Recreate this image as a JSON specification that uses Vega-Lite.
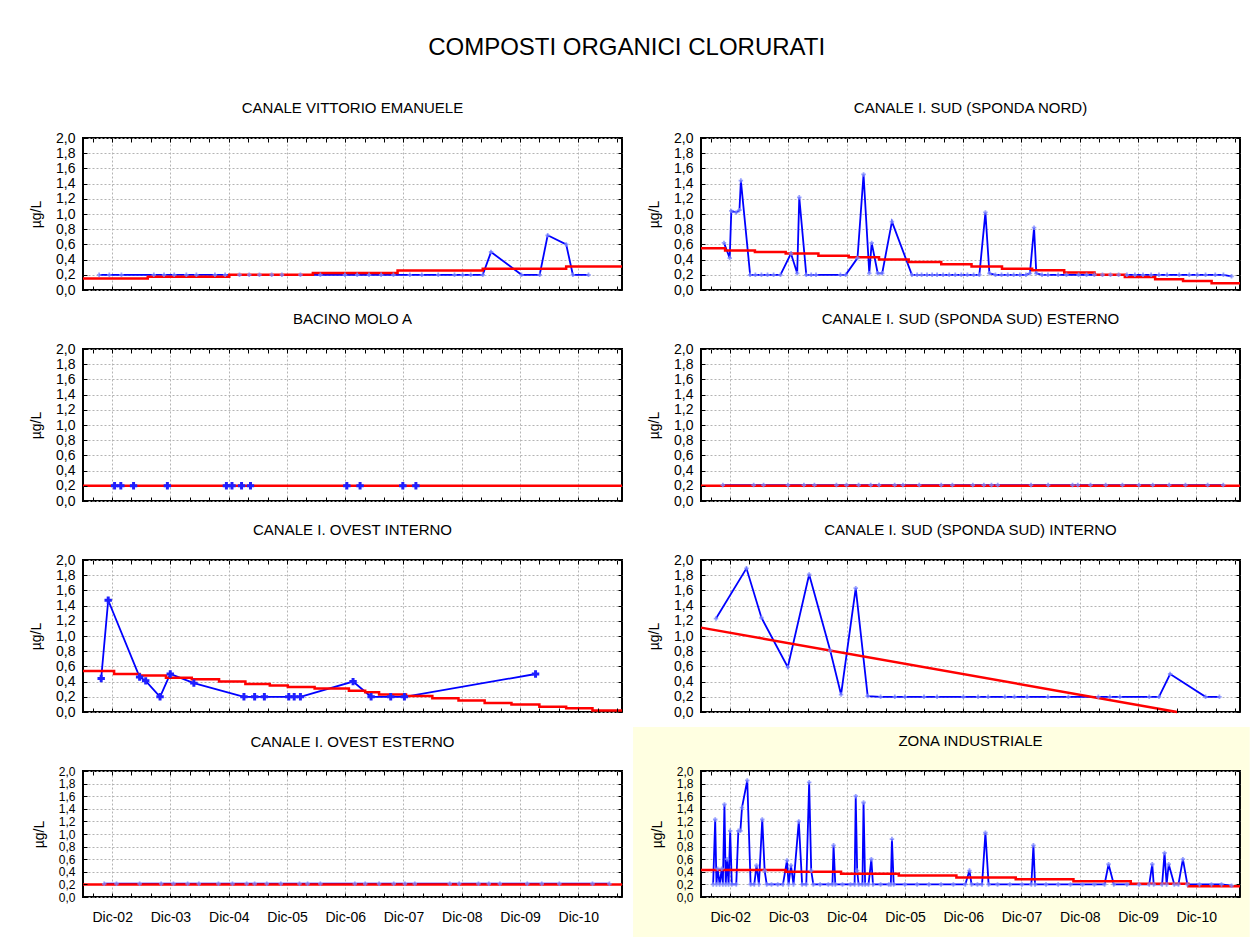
{
 "$schema": "https://vega.github.io/schema/vega-lite/v6.json",
 "padding": {"left": 28, "top": 36, "right": 0, "bottom": 0},
 "background": "#ffffff",
 "title": {"text": "COMPOSTI ORGANICI CLORURATI", "fontSize": 24, "anchor": "middle", "offset": 40, "dx": -13},
 "columns": 2,
 "spacing": {"row": 59, "column": 79},
 "bounds": "flush",
 "concat": [
  {
   "width": 539, "height": 152,
   "title": {"text": "CANALE VITTORIO EMANUELE", "fontSize": 15, "offset": 15, "frame": "group", "anchor": "middle"},
   "layer": [
    {"data": {"name": "vem_m"}, "mark": {"type": "line", "color": "#0000ff", "strokeWidth": 1.8},
     "encoding": {
      "x": {"field": "date", "type": "temporal", "title": null, "scale": {"domain": [{"year": 2002, "month": 6, "date": 1}, {"year": 2011, "month": 9, "date": 1}]},
            "axis": {"orient": "bottom", "labels": false, "grid": false, "zindex": 1, "values": [{"year":2002,"month":8,"date":1},{"year":2002,"month":12,"date":1},{"year":2003,"month":4,"date":1},{"year":2003,"month":8,"date":1},{"year":2003,"month":12,"date":1},{"year":2004,"month":4,"date":1},{"year":2004,"month":8,"date":1},{"year":2004,"month":12,"date":1},{"year":2005,"month":4,"date":1},{"year":2005,"month":8,"date":1},{"year":2005,"month":12,"date":1},{"year":2006,"month":4,"date":1},{"year":2006,"month":8,"date":1},{"year":2006,"month":12,"date":1},{"year":2007,"month":4,"date":1},{"year":2007,"month":8,"date":1},{"year":2007,"month":12,"date":1},{"year":2008,"month":4,"date":1},{"year":2008,"month":8,"date":1},{"year":2008,"month":12,"date":1},{"year":2009,"month":4,"date":1},{"year":2009,"month":8,"date":1},{"year":2009,"month":12,"date":1},{"year":2010,"month":4,"date":1},{"year":2010,"month":8,"date":1},{"year":2010,"month":12,"date":1},{"year":2011,"month":4,"date":1},{"year":2011,"month":8,"date":1}]}},
      "y": {"field": "value", "type": "quantitative", "title": "µg/L", "scale": {"domain": [0, 2], "nice": false},
            "axis": {"orient": "left", "grid": false, "zindex": 1, "values": [0,0.2,0.4,0.6,0.8,1,1.2,1.4,1.6,1.8,2], "labelExpr": "replace(format(datum.value, '.1f'), '.', ',')"}}
     }},
    {"data": {"name": "vem_t"}, "mark": {"type": "line", "color": "#ff0000", "strokeWidth": 2.5, "interpolate": "step-after"},
     "encoding": {
      "x": {"field": "date", "type": "temporal", "title": null, "scale": {"domain": [{"year": 2002, "month": 6, "date": 1}, {"year": 2011, "month": 9, "date": 1}]},
            "axis": {"orient": "top", "labels": false, "grid": true, "gridOpacity": {"condition": {"test": "month(datum.value) == 11", "value": 1}, "value": 0}, "values": [{"year":2002,"month":8,"date":1},{"year":2002,"month":12,"date":1},{"year":2003,"month":4,"date":1},{"year":2003,"month":8,"date":1},{"year":2003,"month":12,"date":1},{"year":2004,"month":4,"date":1},{"year":2004,"month":8,"date":1},{"year":2004,"month":12,"date":1},{"year":2005,"month":4,"date":1},{"year":2005,"month":8,"date":1},{"year":2005,"month":12,"date":1},{"year":2006,"month":4,"date":1},{"year":2006,"month":8,"date":1},{"year":2006,"month":12,"date":1},{"year":2007,"month":4,"date":1},{"year":2007,"month":8,"date":1},{"year":2007,"month":12,"date":1},{"year":2008,"month":4,"date":1},{"year":2008,"month":8,"date":1},{"year":2008,"month":12,"date":1},{"year":2009,"month":4,"date":1},{"year":2009,"month":8,"date":1},{"year":2009,"month":12,"date":1},{"year":2010,"month":4,"date":1},{"year":2010,"month":8,"date":1},{"year":2010,"month":12,"date":1},{"year":2011,"month":4,"date":1},{"year":2011,"month":8,"date":1}]}},
      "y": {"field": "value", "type": "quantitative", "title": null, "scale": {"domain": [0, 2], "nice": false},
            "axis": {"orient": "right", "labels": false, "grid": true, "values": [0,0.2,0.4,0.6,0.8,1,1.2,1.4,1.6,1.8,2]}}
     }},
    {"data": {"name": "vem_m"}, "mark": {"type": "point", "shape": "cross", "filled": true, "size": 20, "color": "#7d88ff", "opacity": 0.8},
     "encoding": {
      "x": {"field": "date", "type": "temporal", "axis": null, "scale": {"domain": [{"year": 2002, "month": 6, "date": 1}, {"year": 2011, "month": 9, "date": 1}]}},
      "y": {"field": "value", "type": "quantitative", "axis": null, "scale": {"domain": [0, 2], "nice": false}}
     }}
   ],
   "resolve": {"axis": {"x": "independent", "y": "independent"}}
  },
  {
   "width": 539, "height": 152,
   "title": {"text": "CANALE I. SUD (SPONDA NORD)", "fontSize": 15, "offset": 15, "frame": "group", "anchor": "middle"},
   "layer": [
    {"data": {"name": "sn_m"}, "mark": {"type": "line", "color": "#0000ff", "strokeWidth": 1.8},
     "encoding": {
      "x": {"field": "date", "type": "temporal", "title": null, "scale": {"domain": [{"year": 2002, "month": 6, "date": 1}, {"year": 2011, "month": 9, "date": 1}]},
            "axis": {"orient": "bottom", "labels": false, "grid": false, "zindex": 1, "values": [{"year":2002,"month":8,"date":1},{"year":2002,"month":12,"date":1},{"year":2003,"month":4,"date":1},{"year":2003,"month":8,"date":1},{"year":2003,"month":12,"date":1},{"year":2004,"month":4,"date":1},{"year":2004,"month":8,"date":1},{"year":2004,"month":12,"date":1},{"year":2005,"month":4,"date":1},{"year":2005,"month":8,"date":1},{"year":2005,"month":12,"date":1},{"year":2006,"month":4,"date":1},{"year":2006,"month":8,"date":1},{"year":2006,"month":12,"date":1},{"year":2007,"month":4,"date":1},{"year":2007,"month":8,"date":1},{"year":2007,"month":12,"date":1},{"year":2008,"month":4,"date":1},{"year":2008,"month":8,"date":1},{"year":2008,"month":12,"date":1},{"year":2009,"month":4,"date":1},{"year":2009,"month":8,"date":1},{"year":2009,"month":12,"date":1},{"year":2010,"month":4,"date":1},{"year":2010,"month":8,"date":1},{"year":2010,"month":12,"date":1},{"year":2011,"month":4,"date":1},{"year":2011,"month":8,"date":1}]}},
      "y": {"field": "value", "type": "quantitative", "title": "µg/L", "scale": {"domain": [0, 2], "nice": false},
            "axis": {"orient": "left", "grid": false, "zindex": 1, "values": [0,0.2,0.4,0.6,0.8,1,1.2,1.4,1.6,1.8,2], "labelExpr": "replace(format(datum.value, '.1f'), '.', ',')"}}
     }},
    {"data": {"name": "sn_t"}, "mark": {"type": "line", "color": "#ff0000", "strokeWidth": 2.5, "interpolate": "step-after"},
     "encoding": {
      "x": {"field": "date", "type": "temporal", "title": null, "scale": {"domain": [{"year": 2002, "month": 6, "date": 1}, {"year": 2011, "month": 9, "date": 1}]},
            "axis": {"orient": "top", "labels": false, "grid": true, "gridOpacity": {"condition": {"test": "month(datum.value) == 11", "value": 1}, "value": 0}, "values": [{"year":2002,"month":8,"date":1},{"year":2002,"month":12,"date":1},{"year":2003,"month":4,"date":1},{"year":2003,"month":8,"date":1},{"year":2003,"month":12,"date":1},{"year":2004,"month":4,"date":1},{"year":2004,"month":8,"date":1},{"year":2004,"month":12,"date":1},{"year":2005,"month":4,"date":1},{"year":2005,"month":8,"date":1},{"year":2005,"month":12,"date":1},{"year":2006,"month":4,"date":1},{"year":2006,"month":8,"date":1},{"year":2006,"month":12,"date":1},{"year":2007,"month":4,"date":1},{"year":2007,"month":8,"date":1},{"year":2007,"month":12,"date":1},{"year":2008,"month":4,"date":1},{"year":2008,"month":8,"date":1},{"year":2008,"month":12,"date":1},{"year":2009,"month":4,"date":1},{"year":2009,"month":8,"date":1},{"year":2009,"month":12,"date":1},{"year":2010,"month":4,"date":1},{"year":2010,"month":8,"date":1},{"year":2010,"month":12,"date":1},{"year":2011,"month":4,"date":1},{"year":2011,"month":8,"date":1}]}},
      "y": {"field": "value", "type": "quantitative", "title": null, "scale": {"domain": [0, 2], "nice": false},
            "axis": {"orient": "right", "labels": false, "grid": true, "values": [0,0.2,0.4,0.6,0.8,1,1.2,1.4,1.6,1.8,2]}}
     }},
    {"data": {"name": "sn_m"}, "mark": {"type": "point", "shape": "cross", "filled": true, "size": 20, "color": "#7d88ff", "opacity": 0.8},
     "encoding": {
      "x": {"field": "date", "type": "temporal", "axis": null, "scale": {"domain": [{"year": 2002, "month": 6, "date": 1}, {"year": 2011, "month": 9, "date": 1}]}},
      "y": {"field": "value", "type": "quantitative", "axis": null, "scale": {"domain": [0, 2], "nice": false}}
     }}
   ],
   "resolve": {"axis": {"x": "independent", "y": "independent"}}
  },
  {
   "width": 539, "height": 152,
   "title": {"text": "BACINO MOLO A", "fontSize": 15, "offset": 15, "frame": "group", "anchor": "middle"},
   "layer": [
    {"data": {"name": "bma_m"}, "mark": {"type": "line", "color": "#0000ff", "strokeWidth": 1.8},
     "encoding": {
      "x": {"field": "date", "type": "temporal", "title": null, "scale": {"domain": [{"year": 2002, "month": 6, "date": 1}, {"year": 2011, "month": 9, "date": 1}]},
            "axis": {"orient": "bottom", "labels": false, "grid": false, "zindex": 1, "values": [{"year":2002,"month":8,"date":1},{"year":2002,"month":12,"date":1},{"year":2003,"month":4,"date":1},{"year":2003,"month":8,"date":1},{"year":2003,"month":12,"date":1},{"year":2004,"month":4,"date":1},{"year":2004,"month":8,"date":1},{"year":2004,"month":12,"date":1},{"year":2005,"month":4,"date":1},{"year":2005,"month":8,"date":1},{"year":2005,"month":12,"date":1},{"year":2006,"month":4,"date":1},{"year":2006,"month":8,"date":1},{"year":2006,"month":12,"date":1},{"year":2007,"month":4,"date":1},{"year":2007,"month":8,"date":1},{"year":2007,"month":12,"date":1},{"year":2008,"month":4,"date":1},{"year":2008,"month":8,"date":1},{"year":2008,"month":12,"date":1},{"year":2009,"month":4,"date":1},{"year":2009,"month":8,"date":1},{"year":2009,"month":12,"date":1},{"year":2010,"month":4,"date":1},{"year":2010,"month":8,"date":1},{"year":2010,"month":12,"date":1},{"year":2011,"month":4,"date":1},{"year":2011,"month":8,"date":1}]}},
      "y": {"field": "value", "type": "quantitative", "title": "µg/L", "scale": {"domain": [0, 2], "nice": false},
            "axis": {"orient": "left", "grid": false, "zindex": 1, "values": [0,0.2,0.4,0.6,0.8,1,1.2,1.4,1.6,1.8,2], "labelExpr": "replace(format(datum.value, '.1f'), '.', ',')"}}
     }},
    {"data": {"name": "bma_t"}, "mark": {"type": "line", "color": "#ff0000", "strokeWidth": 2.5, "interpolate": "step-after"},
     "encoding": {
      "x": {"field": "date", "type": "temporal", "title": null, "scale": {"domain": [{"year": 2002, "month": 6, "date": 1}, {"year": 2011, "month": 9, "date": 1}]},
            "axis": {"orient": "top", "labels": false, "grid": true, "gridOpacity": {"condition": {"test": "month(datum.value) == 11", "value": 1}, "value": 0}, "values": [{"year":2002,"month":8,"date":1},{"year":2002,"month":12,"date":1},{"year":2003,"month":4,"date":1},{"year":2003,"month":8,"date":1},{"year":2003,"month":12,"date":1},{"year":2004,"month":4,"date":1},{"year":2004,"month":8,"date":1},{"year":2004,"month":12,"date":1},{"year":2005,"month":4,"date":1},{"year":2005,"month":8,"date":1},{"year":2005,"month":12,"date":1},{"year":2006,"month":4,"date":1},{"year":2006,"month":8,"date":1},{"year":2006,"month":12,"date":1},{"year":2007,"month":4,"date":1},{"year":2007,"month":8,"date":1},{"year":2007,"month":12,"date":1},{"year":2008,"month":4,"date":1},{"year":2008,"month":8,"date":1},{"year":2008,"month":12,"date":1},{"year":2009,"month":4,"date":1},{"year":2009,"month":8,"date":1},{"year":2009,"month":12,"date":1},{"year":2010,"month":4,"date":1},{"year":2010,"month":8,"date":1},{"year":2010,"month":12,"date":1},{"year":2011,"month":4,"date":1},{"year":2011,"month":8,"date":1}]}},
      "y": {"field": "value", "type": "quantitative", "title": null, "scale": {"domain": [0, 2], "nice": false},
            "axis": {"orient": "right", "labels": false, "grid": true, "values": [0,0.2,0.4,0.6,0.8,1,1.2,1.4,1.6,1.8,2]}}
     }},
    {"data": {"name": "bma_m"}, "mark": {"type": "point", "shape": "cross", "filled": true, "size": 55, "color": "#1f1fff", "opacity": 1},
     "encoding": {
      "x": {"field": "date", "type": "temporal", "axis": null, "scale": {"domain": [{"year": 2002, "month": 6, "date": 1}, {"year": 2011, "month": 9, "date": 1}]}},
      "y": {"field": "value", "type": "quantitative", "axis": null, "scale": {"domain": [0, 2], "nice": false}}
     }}
   ],
   "resolve": {"axis": {"x": "independent", "y": "independent"}}
  },
  {
   "width": 539, "height": 152,
   "title": {"text": "CANALE I. SUD (SPONDA SUD) ESTERNO", "fontSize": 15, "offset": 15, "frame": "group", "anchor": "middle"},
   "layer": [
    {"data": {"name": "sse_m"}, "mark": {"type": "line", "color": "#0000ff", "strokeWidth": 1.8},
     "encoding": {
      "x": {"field": "date", "type": "temporal", "title": null, "scale": {"domain": [{"year": 2002, "month": 6, "date": 1}, {"year": 2011, "month": 9, "date": 1}]},
            "axis": {"orient": "bottom", "labels": false, "grid": false, "zindex": 1, "values": [{"year":2002,"month":8,"date":1},{"year":2002,"month":12,"date":1},{"year":2003,"month":4,"date":1},{"year":2003,"month":8,"date":1},{"year":2003,"month":12,"date":1},{"year":2004,"month":4,"date":1},{"year":2004,"month":8,"date":1},{"year":2004,"month":12,"date":1},{"year":2005,"month":4,"date":1},{"year":2005,"month":8,"date":1},{"year":2005,"month":12,"date":1},{"year":2006,"month":4,"date":1},{"year":2006,"month":8,"date":1},{"year":2006,"month":12,"date":1},{"year":2007,"month":4,"date":1},{"year":2007,"month":8,"date":1},{"year":2007,"month":12,"date":1},{"year":2008,"month":4,"date":1},{"year":2008,"month":8,"date":1},{"year":2008,"month":12,"date":1},{"year":2009,"month":4,"date":1},{"year":2009,"month":8,"date":1},{"year":2009,"month":12,"date":1},{"year":2010,"month":4,"date":1},{"year":2010,"month":8,"date":1},{"year":2010,"month":12,"date":1},{"year":2011,"month":4,"date":1},{"year":2011,"month":8,"date":1}]}},
      "y": {"field": "value", "type": "quantitative", "title": "µg/L", "scale": {"domain": [0, 2], "nice": false},
            "axis": {"orient": "left", "grid": false, "zindex": 1, "values": [0,0.2,0.4,0.6,0.8,1,1.2,1.4,1.6,1.8,2], "labelExpr": "replace(format(datum.value, '.1f'), '.', ',')"}}
     }},
    {"data": {"name": "sse_t"}, "mark": {"type": "line", "color": "#ff0000", "strokeWidth": 2.5, "interpolate": "step-after"},
     "encoding": {
      "x": {"field": "date", "type": "temporal", "title": null, "scale": {"domain": [{"year": 2002, "month": 6, "date": 1}, {"year": 2011, "month": 9, "date": 1}]},
            "axis": {"orient": "top", "labels": false, "grid": true, "gridOpacity": {"condition": {"test": "month(datum.value) == 11", "value": 1}, "value": 0}, "values": [{"year":2002,"month":8,"date":1},{"year":2002,"month":12,"date":1},{"year":2003,"month":4,"date":1},{"year":2003,"month":8,"date":1},{"year":2003,"month":12,"date":1},{"year":2004,"month":4,"date":1},{"year":2004,"month":8,"date":1},{"year":2004,"month":12,"date":1},{"year":2005,"month":4,"date":1},{"year":2005,"month":8,"date":1},{"year":2005,"month":12,"date":1},{"year":2006,"month":4,"date":1},{"year":2006,"month":8,"date":1},{"year":2006,"month":12,"date":1},{"year":2007,"month":4,"date":1},{"year":2007,"month":8,"date":1},{"year":2007,"month":12,"date":1},{"year":2008,"month":4,"date":1},{"year":2008,"month":8,"date":1},{"year":2008,"month":12,"date":1},{"year":2009,"month":4,"date":1},{"year":2009,"month":8,"date":1},{"year":2009,"month":12,"date":1},{"year":2010,"month":4,"date":1},{"year":2010,"month":8,"date":1},{"year":2010,"month":12,"date":1},{"year":2011,"month":4,"date":1},{"year":2011,"month":8,"date":1}]}},
      "y": {"field": "value", "type": "quantitative", "title": null, "scale": {"domain": [0, 2], "nice": false},
            "axis": {"orient": "right", "labels": false, "grid": true, "values": [0,0.2,0.4,0.6,0.8,1,1.2,1.4,1.6,1.8,2]}}
     }},
    {"data": {"name": "sse_m"}, "mark": {"type": "point", "shape": "cross", "filled": true, "size": 20, "color": "#7d88ff", "opacity": 0.8},
     "encoding": {
      "x": {"field": "date", "type": "temporal", "axis": null, "scale": {"domain": [{"year": 2002, "month": 6, "date": 1}, {"year": 2011, "month": 9, "date": 1}]}},
      "y": {"field": "value", "type": "quantitative", "axis": null, "scale": {"domain": [0, 2], "nice": false}}
     }}
   ],
   "resolve": {"axis": {"x": "independent", "y": "independent"}}
  },
  {
   "width": 539, "height": 152,
   "title": {"text": "CANALE I. OVEST INTERNO", "fontSize": 15, "offset": 15, "frame": "group", "anchor": "middle"},
   "layer": [
    {"data": {"name": "ovi_m"}, "mark": {"type": "line", "color": "#0000ff", "strokeWidth": 1.8},
     "encoding": {
      "x": {"field": "date", "type": "temporal", "title": null, "scale": {"domain": [{"year": 2002, "month": 6, "date": 1}, {"year": 2011, "month": 9, "date": 1}]},
            "axis": {"orient": "bottom", "labels": false, "grid": false, "zindex": 1, "values": [{"year":2002,"month":8,"date":1},{"year":2002,"month":12,"date":1},{"year":2003,"month":4,"date":1},{"year":2003,"month":8,"date":1},{"year":2003,"month":12,"date":1},{"year":2004,"month":4,"date":1},{"year":2004,"month":8,"date":1},{"year":2004,"month":12,"date":1},{"year":2005,"month":4,"date":1},{"year":2005,"month":8,"date":1},{"year":2005,"month":12,"date":1},{"year":2006,"month":4,"date":1},{"year":2006,"month":8,"date":1},{"year":2006,"month":12,"date":1},{"year":2007,"month":4,"date":1},{"year":2007,"month":8,"date":1},{"year":2007,"month":12,"date":1},{"year":2008,"month":4,"date":1},{"year":2008,"month":8,"date":1},{"year":2008,"month":12,"date":1},{"year":2009,"month":4,"date":1},{"year":2009,"month":8,"date":1},{"year":2009,"month":12,"date":1},{"year":2010,"month":4,"date":1},{"year":2010,"month":8,"date":1},{"year":2010,"month":12,"date":1},{"year":2011,"month":4,"date":1},{"year":2011,"month":8,"date":1}]}},
      "y": {"field": "value", "type": "quantitative", "title": "µg/L", "scale": {"domain": [0, 2], "nice": false},
            "axis": {"orient": "left", "grid": false, "zindex": 1, "values": [0,0.2,0.4,0.6,0.8,1,1.2,1.4,1.6,1.8,2], "labelExpr": "replace(format(datum.value, '.1f'), '.', ',')"}}
     }},
    {"data": {"name": "ovi_t"}, "mark": {"type": "line", "color": "#ff0000", "strokeWidth": 2.5, "interpolate": "step-after"},
     "encoding": {
      "x": {"field": "date", "type": "temporal", "title": null, "scale": {"domain": [{"year": 2002, "month": 6, "date": 1}, {"year": 2011, "month": 9, "date": 1}]},
            "axis": {"orient": "top", "labels": false, "grid": true, "gridOpacity": {"condition": {"test": "month(datum.value) == 11", "value": 1}, "value": 0}, "values": [{"year":2002,"month":8,"date":1},{"year":2002,"month":12,"date":1},{"year":2003,"month":4,"date":1},{"year":2003,"month":8,"date":1},{"year":2003,"month":12,"date":1},{"year":2004,"month":4,"date":1},{"year":2004,"month":8,"date":1},{"year":2004,"month":12,"date":1},{"year":2005,"month":4,"date":1},{"year":2005,"month":8,"date":1},{"year":2005,"month":12,"date":1},{"year":2006,"month":4,"date":1},{"year":2006,"month":8,"date":1},{"year":2006,"month":12,"date":1},{"year":2007,"month":4,"date":1},{"year":2007,"month":8,"date":1},{"year":2007,"month":12,"date":1},{"year":2008,"month":4,"date":1},{"year":2008,"month":8,"date":1},{"year":2008,"month":12,"date":1},{"year":2009,"month":4,"date":1},{"year":2009,"month":8,"date":1},{"year":2009,"month":12,"date":1},{"year":2010,"month":4,"date":1},{"year":2010,"month":8,"date":1},{"year":2010,"month":12,"date":1},{"year":2011,"month":4,"date":1},{"year":2011,"month":8,"date":1}]}},
      "y": {"field": "value", "type": "quantitative", "title": null, "scale": {"domain": [0, 2], "nice": false},
            "axis": {"orient": "right", "labels": false, "grid": true, "values": [0,0.2,0.4,0.6,0.8,1,1.2,1.4,1.6,1.8,2]}}
     }},
    {"data": {"name": "ovi_m"}, "mark": {"type": "point", "shape": "cross", "filled": true, "size": 55, "color": "#1f1fff", "opacity": 1},
     "encoding": {
      "x": {"field": "date", "type": "temporal", "axis": null, "scale": {"domain": [{"year": 2002, "month": 6, "date": 1}, {"year": 2011, "month": 9, "date": 1}]}},
      "y": {"field": "value", "type": "quantitative", "axis": null, "scale": {"domain": [0, 2], "nice": false}}
     }}
   ],
   "resolve": {"axis": {"x": "independent", "y": "independent"}}
  },
  {
   "width": 539, "height": 152,
   "title": {"text": "CANALE I. SUD (SPONDA SUD) INTERNO", "fontSize": 15, "offset": 15, "frame": "group", "anchor": "middle"},
   "layer": [
    {"data": {"name": "ssi_m"}, "mark": {"type": "line", "color": "#0000ff", "strokeWidth": 1.8},
     "encoding": {
      "x": {"field": "date", "type": "temporal", "title": null, "scale": {"domain": [{"year": 2002, "month": 6, "date": 1}, {"year": 2011, "month": 9, "date": 1}]},
            "axis": {"orient": "bottom", "labels": false, "grid": false, "zindex": 1, "values": [{"year":2002,"month":8,"date":1},{"year":2002,"month":12,"date":1},{"year":2003,"month":4,"date":1},{"year":2003,"month":8,"date":1},{"year":2003,"month":12,"date":1},{"year":2004,"month":4,"date":1},{"year":2004,"month":8,"date":1},{"year":2004,"month":12,"date":1},{"year":2005,"month":4,"date":1},{"year":2005,"month":8,"date":1},{"year":2005,"month":12,"date":1},{"year":2006,"month":4,"date":1},{"year":2006,"month":8,"date":1},{"year":2006,"month":12,"date":1},{"year":2007,"month":4,"date":1},{"year":2007,"month":8,"date":1},{"year":2007,"month":12,"date":1},{"year":2008,"month":4,"date":1},{"year":2008,"month":8,"date":1},{"year":2008,"month":12,"date":1},{"year":2009,"month":4,"date":1},{"year":2009,"month":8,"date":1},{"year":2009,"month":12,"date":1},{"year":2010,"month":4,"date":1},{"year":2010,"month":8,"date":1},{"year":2010,"month":12,"date":1},{"year":2011,"month":4,"date":1},{"year":2011,"month":8,"date":1}]}},
      "y": {"field": "value", "type": "quantitative", "title": "µg/L", "scale": {"domain": [0, 2], "nice": false},
            "axis": {"orient": "left", "grid": false, "zindex": 1, "values": [0,0.2,0.4,0.6,0.8,1,1.2,1.4,1.6,1.8,2], "labelExpr": "replace(format(datum.value, '.1f'), '.', ',')"}}
     }},
    {"data": {"name": "ssi_t"}, "mark": {"type": "line", "color": "#ff0000", "strokeWidth": 2.5},
     "encoding": {
      "x": {"field": "date", "type": "temporal", "title": null, "scale": {"domain": [{"year": 2002, "month": 6, "date": 1}, {"year": 2011, "month": 9, "date": 1}]},
            "axis": {"orient": "top", "labels": false, "grid": true, "gridOpacity": {"condition": {"test": "month(datum.value) == 11", "value": 1}, "value": 0}, "values": [{"year":2002,"month":8,"date":1},{"year":2002,"month":12,"date":1},{"year":2003,"month":4,"date":1},{"year":2003,"month":8,"date":1},{"year":2003,"month":12,"date":1},{"year":2004,"month":4,"date":1},{"year":2004,"month":8,"date":1},{"year":2004,"month":12,"date":1},{"year":2005,"month":4,"date":1},{"year":2005,"month":8,"date":1},{"year":2005,"month":12,"date":1},{"year":2006,"month":4,"date":1},{"year":2006,"month":8,"date":1},{"year":2006,"month":12,"date":1},{"year":2007,"month":4,"date":1},{"year":2007,"month":8,"date":1},{"year":2007,"month":12,"date":1},{"year":2008,"month":4,"date":1},{"year":2008,"month":8,"date":1},{"year":2008,"month":12,"date":1},{"year":2009,"month":4,"date":1},{"year":2009,"month":8,"date":1},{"year":2009,"month":12,"date":1},{"year":2010,"month":4,"date":1},{"year":2010,"month":8,"date":1},{"year":2010,"month":12,"date":1},{"year":2011,"month":4,"date":1},{"year":2011,"month":8,"date":1}]}},
      "y": {"field": "value", "type": "quantitative", "title": null, "scale": {"domain": [0, 2], "nice": false},
            "axis": {"orient": "right", "labels": false, "grid": true, "values": [0,0.2,0.4,0.6,0.8,1,1.2,1.4,1.6,1.8,2]}}
     }},
    {"data": {"name": "ssi_m"}, "mark": {"type": "point", "shape": "cross", "filled": true, "size": 20, "color": "#7d88ff", "opacity": 0.8},
     "encoding": {
      "x": {"field": "date", "type": "temporal", "axis": null, "scale": {"domain": [{"year": 2002, "month": 6, "date": 1}, {"year": 2011, "month": 9, "date": 1}]}},
      "y": {"field": "value", "type": "quantitative", "axis": null, "scale": {"domain": [0, 2], "nice": false}}
     }}
   ],
   "resolve": {"axis": {"x": "independent", "y": "independent"}}
  },
  {
   "width": 539, "height": 126,
   "title": {"text": "CANALE I. OVEST ESTERNO", "fontSize": 15, "offset": 15, "frame": "group", "anchor": "middle"},
   "layer": [
    {"data": {"name": "ove_m"}, "mark": {"type": "line", "color": "#0000ff", "strokeWidth": 1.8},
     "encoding": {
      "x": {"field": "date", "type": "temporal", "title": null, "scale": {"domain": [{"year": 2002, "month": 6, "date": 1}, {"year": 2011, "month": 9, "date": 1}]},
            "axis": {"orient": "bottom", "labels": true, "grid": false, "zindex": 1, "labelExpr": "month(datum.value) == 11 ? 'Dic-' + timeFormat(datum.value, '%y') : ''", "values": [{"year":2002,"month":8,"date":1},{"year":2002,"month":12,"date":1},{"year":2003,"month":4,"date":1},{"year":2003,"month":8,"date":1},{"year":2003,"month":12,"date":1},{"year":2004,"month":4,"date":1},{"year":2004,"month":8,"date":1},{"year":2004,"month":12,"date":1},{"year":2005,"month":4,"date":1},{"year":2005,"month":8,"date":1},{"year":2005,"month":12,"date":1},{"year":2006,"month":4,"date":1},{"year":2006,"month":8,"date":1},{"year":2006,"month":12,"date":1},{"year":2007,"month":4,"date":1},{"year":2007,"month":8,"date":1},{"year":2007,"month":12,"date":1},{"year":2008,"month":4,"date":1},{"year":2008,"month":8,"date":1},{"year":2008,"month":12,"date":1},{"year":2009,"month":4,"date":1},{"year":2009,"month":8,"date":1},{"year":2009,"month":12,"date":1},{"year":2010,"month":4,"date":1},{"year":2010,"month":8,"date":1},{"year":2010,"month":12,"date":1},{"year":2011,"month":4,"date":1},{"year":2011,"month":8,"date":1}]}},
      "y": {"field": "value", "type": "quantitative", "title": "µg/L", "scale": {"domain": [0, 2], "nice": false},
            "axis": {"orient": "left", "grid": false, "zindex": 1, "labelFontSize": 12, "values": [0,0.2,0.4,0.6,0.8,1,1.2,1.4,1.6,1.8,2], "labelExpr": "replace(format(datum.value, '.1f'), '.', ',')"}}
     }},
    {"data": {"name": "ove_t"}, "mark": {"type": "line", "color": "#ff0000", "strokeWidth": 2.5, "interpolate": "step-after"},
     "encoding": {
      "x": {"field": "date", "type": "temporal", "title": null, "scale": {"domain": [{"year": 2002, "month": 6, "date": 1}, {"year": 2011, "month": 9, "date": 1}]},
            "axis": {"orient": "top", "labels": false, "grid": true, "gridOpacity": {"condition": {"test": "month(datum.value) == 11", "value": 1}, "value": 0}, "values": [{"year":2002,"month":8,"date":1},{"year":2002,"month":12,"date":1},{"year":2003,"month":4,"date":1},{"year":2003,"month":8,"date":1},{"year":2003,"month":12,"date":1},{"year":2004,"month":4,"date":1},{"year":2004,"month":8,"date":1},{"year":2004,"month":12,"date":1},{"year":2005,"month":4,"date":1},{"year":2005,"month":8,"date":1},{"year":2005,"month":12,"date":1},{"year":2006,"month":4,"date":1},{"year":2006,"month":8,"date":1},{"year":2006,"month":12,"date":1},{"year":2007,"month":4,"date":1},{"year":2007,"month":8,"date":1},{"year":2007,"month":12,"date":1},{"year":2008,"month":4,"date":1},{"year":2008,"month":8,"date":1},{"year":2008,"month":12,"date":1},{"year":2009,"month":4,"date":1},{"year":2009,"month":8,"date":1},{"year":2009,"month":12,"date":1},{"year":2010,"month":4,"date":1},{"year":2010,"month":8,"date":1},{"year":2010,"month":12,"date":1},{"year":2011,"month":4,"date":1},{"year":2011,"month":8,"date":1}]}},
      "y": {"field": "value", "type": "quantitative", "title": null, "scale": {"domain": [0, 2], "nice": false},
            "axis": {"orient": "right", "labels": false, "grid": true, "values": [0,0.2,0.4,0.6,0.8,1,1.2,1.4,1.6,1.8,2]}}
     }},
    {"data": {"name": "ove_m"}, "mark": {"type": "point", "shape": "cross", "filled": true, "size": 20, "color": "#7d88ff", "opacity": 0.8},
     "encoding": {
      "x": {"field": "date", "type": "temporal", "axis": null, "scale": {"domain": [{"year": 2002, "month": 6, "date": 1}, {"year": 2011, "month": 9, "date": 1}]}},
      "y": {"field": "value", "type": "quantitative", "axis": null, "scale": {"domain": [0, 2], "nice": false}}
     }}
   ],
   "resolve": {"axis": {"x": "independent", "y": "independent"}}
  },
  {
   "width": 539, "height": 126,
   "title": {"text": "ZONA INDUSTRIALE", "fontSize": 15, "offset": -22, "frame": "group", "anchor": "middle", "zindex": 1},
   "layer": [
    {"data": {"values": [{}]}, "mark": {"type": "rect", "color": "#ffffe1"},
     "encoding": {
      "x": {"datum": {"year": 2001, "month": 4, "date": 1}, "type": "temporal", "axis": null, "scale": {"domain": [{"year": 2002, "month": 6, "date": 1}, {"year": 2011, "month": 9, "date": 1}]}},
      "x2": {"datum": {"year": 2011, "month": 11, "date": 1}},
      "y": {"datum": 2.016, "type": "quantitative", "axis": null, "scale": {"domain": [0, 2], "nice": false}},
      "y2": {"datum": 2.7}
     }},
    {"data": {"values": [{}]}, "mark": {"type": "rect", "color": "#ffffe1"},
     "encoding": {
      "x": {"datum": {"year": 2001, "month": 4, "date": 1}, "type": "temporal", "axis": null, "scale": {"domain": [{"year": 2002, "month": 6, "date": 1}, {"year": 2011, "month": 9, "date": 1}]}},
      "x2": {"datum": {"year": 2011, "month": 11, "date": 1}},
      "y": {"datum": -0.635, "type": "quantitative", "axis": null, "scale": {"domain": [0, 2], "nice": false}},
      "y2": {"datum": -0.016}
     }},
    {"data": {"values": [{}]}, "mark": {"type": "rect", "color": "#ffffe1"},
     "encoding": {
      "x": {"datum": {"year": 2001, "month": 4, "date": 1}, "type": "temporal", "axis": null, "scale": {"domain": [{"year": 2002, "month": 6, "date": 1}, {"year": 2011, "month": 9, "date": 1}]}},
      "x2": {"datum": {"year": 2002, "month": 5, "date": 26}},
      "y": {"datum": -0.016, "type": "quantitative", "axis": null, "scale": {"domain": [0, 2], "nice": false}},
      "y2": {"datum": 2.016}
     }},
    {"data": {"values": [{}]}, "mark": {"type": "rect", "color": "#ffffe1"},
     "encoding": {
      "x": {"datum": {"year": 2011, "month": 9, "date": 7}, "type": "temporal", "axis": null, "scale": {"domain": [{"year": 2002, "month": 6, "date": 1}, {"year": 2011, "month": 9, "date": 1}]}},
      "x2": {"datum": {"year": 2011, "month": 11, "date": 1}},
      "y": {"datum": -0.016, "type": "quantitative", "axis": null, "scale": {"domain": [0, 2], "nice": false}},
      "y2": {"datum": 2.016}
     }},
    {"data": {"name": "zi_m"}, "mark": {"type": "line", "color": "#0000ff", "strokeWidth": 1.8},
     "encoding": {
      "x": {"field": "date", "type": "temporal", "title": null, "scale": {"domain": [{"year": 2002, "month": 6, "date": 1}, {"year": 2011, "month": 9, "date": 1}]},
            "axis": {"orient": "bottom", "labels": true, "grid": false, "zindex": 1, "labelExpr": "month(datum.value) == 11 ? 'Dic-' + timeFormat(datum.value, '%y') : ''", "values": [{"year":2002,"month":8,"date":1},{"year":2002,"month":12,"date":1},{"year":2003,"month":4,"date":1},{"year":2003,"month":8,"date":1},{"year":2003,"month":12,"date":1},{"year":2004,"month":4,"date":1},{"year":2004,"month":8,"date":1},{"year":2004,"month":12,"date":1},{"year":2005,"month":4,"date":1},{"year":2005,"month":8,"date":1},{"year":2005,"month":12,"date":1},{"year":2006,"month":4,"date":1},{"year":2006,"month":8,"date":1},{"year":2006,"month":12,"date":1},{"year":2007,"month":4,"date":1},{"year":2007,"month":8,"date":1},{"year":2007,"month":12,"date":1},{"year":2008,"month":4,"date":1},{"year":2008,"month":8,"date":1},{"year":2008,"month":12,"date":1},{"year":2009,"month":4,"date":1},{"year":2009,"month":8,"date":1},{"year":2009,"month":12,"date":1},{"year":2010,"month":4,"date":1},{"year":2010,"month":8,"date":1},{"year":2010,"month":12,"date":1},{"year":2011,"month":4,"date":1},{"year":2011,"month":8,"date":1}]}},
      "y": {"field": "value", "type": "quantitative", "title": "µg/L", "scale": {"domain": [0, 2], "nice": false},
            "axis": {"orient": "left", "grid": false, "zindex": 1, "labelFontSize": 12, "values": [0,0.2,0.4,0.6,0.8,1,1.2,1.4,1.6,1.8,2], "labelExpr": "replace(format(datum.value, '.1f'), '.', ',')"}}
     }},
    {"data": {"name": "zi_t"}, "mark": {"type": "line", "color": "#ff0000", "strokeWidth": 2.5, "interpolate": "step-after"},
     "encoding": {
      "x": {"field": "date", "type": "temporal", "title": null, "scale": {"domain": [{"year": 2002, "month": 6, "date": 1}, {"year": 2011, "month": 9, "date": 1}]},
            "axis": {"orient": "top", "labels": false, "grid": true, "gridOpacity": {"condition": {"test": "month(datum.value) == 11", "value": 1}, "value": 0}, "values": [{"year":2002,"month":8,"date":1},{"year":2002,"month":12,"date":1},{"year":2003,"month":4,"date":1},{"year":2003,"month":8,"date":1},{"year":2003,"month":12,"date":1},{"year":2004,"month":4,"date":1},{"year":2004,"month":8,"date":1},{"year":2004,"month":12,"date":1},{"year":2005,"month":4,"date":1},{"year":2005,"month":8,"date":1},{"year":2005,"month":12,"date":1},{"year":2006,"month":4,"date":1},{"year":2006,"month":8,"date":1},{"year":2006,"month":12,"date":1},{"year":2007,"month":4,"date":1},{"year":2007,"month":8,"date":1},{"year":2007,"month":12,"date":1},{"year":2008,"month":4,"date":1},{"year":2008,"month":8,"date":1},{"year":2008,"month":12,"date":1},{"year":2009,"month":4,"date":1},{"year":2009,"month":8,"date":1},{"year":2009,"month":12,"date":1},{"year":2010,"month":4,"date":1},{"year":2010,"month":8,"date":1},{"year":2010,"month":12,"date":1},{"year":2011,"month":4,"date":1},{"year":2011,"month":8,"date":1}]}},
      "y": {"field": "value", "type": "quantitative", "title": null, "scale": {"domain": [0, 2], "nice": false},
            "axis": {"orient": "right", "labels": false, "grid": true, "values": [0,0.2,0.4,0.6,0.8,1,1.2,1.4,1.6,1.8,2]}}
     }},
    {"data": {"name": "zi_m"}, "mark": {"type": "point", "shape": "cross", "filled": true, "size": 20, "color": "#7d88ff", "opacity": 0.8},
     "encoding": {
      "x": {"field": "date", "type": "temporal", "axis": null, "scale": {"domain": [{"year": 2002, "month": 6, "date": 1}, {"year": 2011, "month": 9, "date": 1}]}},
      "y": {"field": "value", "type": "quantitative", "axis": null, "scale": {"domain": [0, 2], "nice": false}}
     }}
   ],
   "resolve": {"axis": {"x": "independent", "y": "independent"}}
  }
 ],
 "datasets": {
  "vem_m": [
   {"date": "2002-09-10", "value": 0.2}, {"date": "2002-11-13", "value": 0.2}, {"date": "2003-01-28", "value": 0.2},
   {"date": "2003-08-19", "value": 0.2}, {"date": "2003-10-22", "value": 0.2}, {"date": "2003-12-25", "value": 0.2},
   {"date": "2004-03-10", "value": 0.2}, {"date": "2004-05-12", "value": 0.2}, {"date": "2004-09-05", "value": 0.2},
   {"date": "2004-11-08", "value": 0.2}, {"date": "2005-02-06", "value": 0.2}, {"date": "2005-04-08", "value": 0.2},
   {"date": "2005-06-11", "value": 0.2}, {"date": "2005-08-27", "value": 0.2}, {"date": "2005-10-30", "value": 0.2},
   {"date": "2006-02-23", "value": 0.2}, {"date": "2006-06-28", "value": 0.2}, {"date": "2006-11-29", "value": 0.2},
   {"date": "2007-02-14", "value": 0.2}, {"date": "2007-04-29", "value": 0.2}, {"date": "2007-07-14", "value": 0.2},
   {"date": "2007-09-29", "value": 0.2}, {"date": "2008-01-10", "value": 0.2}, {"date": "2008-03-25", "value": 0.2},
   {"date": "2008-07-06", "value": 0.2}, {"date": "2008-10-16", "value": 0.2}, {"date": "2008-12-06", "value": 0.2},
   {"date": "2009-01-26", "value": 0.2}, {"date": "2009-04-11", "value": 0.2}, {"date": "2009-06-02", "value": 0.5},
   {"date": "2009-12-10", "value": 0.2}, {"date": "2010-04-03", "value": 0.2}, {"date": "2010-05-23", "value": 0.72},
   {"date": "2010-09-16", "value": 0.6}, {"date": "2010-10-28", "value": 0.2}, {"date": "2011-02-03", "value": 0.2}
  ],
  "vem_t": [
   {"date": "2002-06-01", "value": 0.15}, {"date": "2003-07-12", "value": 0.175}, {"date": "2004-12-04", "value": 0.2},
   {"date": "2006-05-12", "value": 0.225}, {"date": "2007-10-25", "value": 0.255}, {"date": "2009-04-11", "value": 0.28},
   {"date": "2010-09-16", "value": 0.31}, {"date": "2011-09-01", "value": 0.31}
  ],
  "sn_m": [
   {"date": "2002-10-23", "value": 0.62}, {"date": "2002-11-28", "value": 0.42}, {"date": "2002-12-08", "value": 1.04},
   {"date": "2003-01-08", "value": 1.02}, {"date": "2003-01-28", "value": 1.05}, {"date": "2003-02-06", "value": 1.44},
   {"date": "2003-04-05", "value": 0.2}, {"date": "2003-05-08", "value": 0.2}, {"date": "2003-06-15", "value": 0.2},
   {"date": "2003-07-23", "value": 0.2}, {"date": "2003-08-30", "value": 0.2}, {"date": "2003-10-12", "value": 0.2},
   {"date": "2003-12-17", "value": 0.48}, {"date": "2004-01-25", "value": 0.22}, {"date": "2004-02-07", "value": 1.22},
   {"date": "2004-03-22", "value": 0.2}, {"date": "2004-04-22", "value": 0.2}, {"date": "2004-05-22", "value": 0.2},
   {"date": "2004-10-22", "value": 0.2}, {"date": "2004-11-24", "value": 0.2}, {"date": "2005-02-06", "value": 0.42},
   {"date": "2005-03-16", "value": 1.52}, {"date": "2005-04-21", "value": 0.22}, {"date": "2005-05-06", "value": 0.62},
   {"date": "2005-06-13", "value": 0.22}, {"date": "2005-07-11", "value": 0.22}, {"date": "2005-09-10", "value": 0.9},
   {"date": "2006-01-13", "value": 0.2}, {"date": "2006-02-15", "value": 0.2}, {"date": "2006-03-15", "value": 0.2},
   {"date": "2006-04-18", "value": 0.2}, {"date": "2006-05-20", "value": 0.2}, {"date": "2006-06-20", "value": 0.2},
   {"date": "2006-07-28", "value": 0.2}, {"date": "2006-09-04", "value": 0.2}, {"date": "2006-10-12", "value": 0.2},
   {"date": "2006-11-19", "value": 0.2}, {"date": "2006-12-27", "value": 0.2}, {"date": "2007-02-04", "value": 0.2},
   {"date": "2007-03-12", "value": 0.2}, {"date": "2007-04-19", "value": 1.02}, {"date": "2007-05-14", "value": 0.22},
   {"date": "2007-06-21", "value": 0.2}, {"date": "2007-07-29", "value": 0.2}, {"date": "2007-09-06", "value": 0.2},
   {"date": "2007-10-13", "value": 0.2}, {"date": "2007-11-21", "value": 0.2}, {"date": "2007-12-29", "value": 0.2},
   {"date": "2008-01-23", "value": 0.22}, {"date": "2008-02-18", "value": 0.82}, {"date": "2008-03-03", "value": 0.22},
   {"date": "2008-04-08", "value": 0.2}, {"date": "2008-05-15", "value": 0.2}, {"date": "2008-07-18", "value": 0.2},
   {"date": "2008-09-08", "value": 0.2}, {"date": "2008-11-23", "value": 0.2}, {"date": "2009-01-12", "value": 0.2},
   {"date": "2009-03-02", "value": 0.2}, {"date": "2009-04-22", "value": 0.2}, {"date": "2009-06-11", "value": 0.2},
   {"date": "2009-08-01", "value": 0.2}, {"date": "2009-09-22", "value": 0.2}, {"date": "2009-11-11", "value": 0.2},
   {"date": "2010-01-01", "value": 0.2}, {"date": "2010-02-21", "value": 0.2}, {"date": "2010-04-11", "value": 0.2},
   {"date": "2010-06-01", "value": 0.2}, {"date": "2010-08-16", "value": 0.2}, {"date": "2010-10-18", "value": 0.2},
   {"date": "2010-12-08", "value": 0.2}, {"date": "2011-01-28", "value": 0.2}, {"date": "2011-03-30", "value": 0.2},
   {"date": "2011-05-20", "value": 0.2}, {"date": "2011-07-10", "value": 0.18}
  ],
  "sn_t": [
   {"date": "2002-06-01", "value": 0.55}, {"date": "2002-10-30", "value": 0.52}, {"date": "2003-05-05", "value": 0.5},
   {"date": "2003-11-14", "value": 0.48}, {"date": "2004-06-06", "value": 0.45}, {"date": "2004-12-13", "value": 0.43},
   {"date": "2005-06-21", "value": 0.4}, {"date": "2005-12-24", "value": 0.37}, {"date": "2006-07-16", "value": 0.34},
   {"date": "2007-01-22", "value": 0.31}, {"date": "2007-08-01", "value": 0.28}, {"date": "2008-02-06", "value": 0.26},
   {"date": "2008-08-25", "value": 0.23}, {"date": "2009-03-03", "value": 0.2}, {"date": "2009-09-09", "value": 0.17},
   {"date": "2010-03-18", "value": 0.14}, {"date": "2010-09-09", "value": 0.12}, {"date": "2011-03-07", "value": 0.09},
   {"date": "2011-09-01", "value": 0.09}
  ],
  "bma_m": [
   {"date": "2002-12-16", "value": 0.2}, {"date": "2003-01-24", "value": 0.2}, {"date": "2003-04-14", "value": 0.2},
   {"date": "2003-11-12", "value": 0.2}, {"date": "2004-11-16", "value": 0.2}, {"date": "2004-12-21", "value": 0.2},
   {"date": "2005-02-19", "value": 0.2}, {"date": "2005-04-16", "value": 0.2}, {"date": "2006-12-11", "value": 0.2},
   {"date": "2007-03-04", "value": 0.2}, {"date": "2007-11-27", "value": 0.2}, {"date": "2008-02-17", "value": 0.2}
  ],
  "bma_t": [{"date": "2002-06-01", "value": 0.2}, {"date": "2011-09-01", "value": 0.2}],
  "sse_m": [
   {"date": "2002-10-16", "value": 0.21}, {"date": "2003-04-27", "value": 0.21}, {"date": "2003-06-28", "value": 0.21},
   {"date": "2003-11-28", "value": 0.21}, {"date": "2004-03-07", "value": 0.21}, {"date": "2004-05-12", "value": 0.21},
   {"date": "2004-09-27", "value": 0.21}, {"date": "2004-11-29", "value": 0.21}, {"date": "2005-02-13", "value": 0.21},
   {"date": "2005-04-30", "value": 0.21}, {"date": "2005-06-21", "value": 0.21}, {"date": "2005-09-27", "value": 0.21},
   {"date": "2005-11-18", "value": 0.21}, {"date": "2006-02-28", "value": 0.21}, {"date": "2006-07-16", "value": 0.21},
   {"date": "2006-09-24", "value": 0.21}, {"date": "2007-01-30", "value": 0.21}, {"date": "2007-04-09", "value": 0.21},
   {"date": "2007-05-27", "value": 0.21}, {"date": "2007-07-05", "value": 0.21}, {"date": "2008-01-30", "value": 0.21},
   {"date": "2008-05-16", "value": 0.21}, {"date": "2008-10-16", "value": 0.21}, {"date": "2008-11-18", "value": 0.21},
   {"date": "2009-02-06", "value": 0.21}, {"date": "2009-05-12", "value": 0.21}, {"date": "2009-08-25", "value": 0.21},
   {"date": "2009-12-06", "value": 0.21}, {"date": "2010-03-03", "value": 0.21}, {"date": "2010-06-14", "value": 0.21},
   {"date": "2010-09-24", "value": 0.21}, {"date": "2011-02-10", "value": 0.21}, {"date": "2011-05-19", "value": 0.21}
  ],
  "sse_t": [{"date": "2002-06-01", "value": 0.2}, {"date": "2011-09-01", "value": 0.2}],
  "ovi_m": [
   {"date": "2002-09-23", "value": 0.44}, {"date": "2002-11-06", "value": 1.47}, {"date": "2003-05-22", "value": 0.46},
   {"date": "2003-06-29", "value": 0.41}, {"date": "2003-09-27", "value": 0.2}, {"date": "2003-11-30", "value": 0.5},
   {"date": "2004-04-26", "value": 0.38}, {"date": "2005-03-06", "value": 0.2}, {"date": "2005-05-12", "value": 0.2},
   {"date": "2005-07-12", "value": 0.2}, {"date": "2005-12-12", "value": 0.2}, {"date": "2006-01-15", "value": 0.2},
   {"date": "2006-02-23", "value": 0.2}, {"date": "2007-01-19", "value": 0.4}, {"date": "2007-05-12", "value": 0.2},
   {"date": "2007-09-12", "value": 0.2}, {"date": "2007-12-07", "value": 0.2}, {"date": "2010-03-08", "value": 0.5}
  ],
  "ovi_t": [
   {"date": "2002-06-01", "value": 0.54}, {"date": "2002-12-13", "value": 0.5}, {"date": "2003-05-22", "value": 0.48},
   {"date": "2003-11-03", "value": 0.45}, {"date": "2004-04-13", "value": 0.43}, {"date": "2004-10-01", "value": 0.4},
   {"date": "2005-03-15", "value": 0.37}, {"date": "2005-08-15", "value": 0.35}, {"date": "2005-12-06", "value": 0.33},
   {"date": "2006-05-23", "value": 0.31}, {"date": "2006-12-24", "value": 0.28}, {"date": "2007-04-05", "value": 0.26},
   {"date": "2007-07-01", "value": 0.23}, {"date": "2007-12-17", "value": 0.21}, {"date": "2008-05-30", "value": 0.18},
   {"date": "2008-11-10", "value": 0.15}, {"date": "2009-04-23", "value": 0.12}, {"date": "2009-10-08", "value": 0.1},
   {"date": "2010-04-01", "value": 0.07}, {"date": "2010-09-16", "value": 0.05}, {"date": "2011-02-28", "value": 0.02},
   {"date": "2011-09-01", "value": 0.02}
  ],
  "ssi_m": [
   {"date": "2002-09-03", "value": 1.23}, {"date": "2003-03-13", "value": 1.89}, {"date": "2003-06-15", "value": 1.24},
   {"date": "2003-11-27", "value": 0.59}, {"date": "2004-04-09", "value": 1.81}, {"date": "2004-08-19", "value": 0.81},
   {"date": "2004-10-26", "value": 0.23}, {"date": "2005-01-26", "value": 1.63}, {"date": "2005-04-11", "value": 0.21},
   {"date": "2005-07-01", "value": 0.2}, {"date": "2005-09-28", "value": 0.2}, {"date": "2005-11-30", "value": 0.2},
   {"date": "2006-03-30", "value": 0.2}, {"date": "2006-06-20", "value": 0.2}, {"date": "2006-12-02", "value": 0.2},
   {"date": "2007-03-04", "value": 0.2}, {"date": "2007-05-06", "value": 0.2}, {"date": "2007-08-19", "value": 0.2},
   {"date": "2007-10-18", "value": 0.2}, {"date": "2008-01-06", "value": 0.2}, {"date": "2008-05-15", "value": 0.2},
   {"date": "2008-09-20", "value": 0.2}, {"date": "2009-03-27", "value": 0.2}, {"date": "2009-06-07", "value": 0.2},
   {"date": "2009-08-09", "value": 0.2}, {"date": "2010-02-09", "value": 0.2}, {"date": "2010-04-11", "value": 0.2},
   {"date": "2010-06-20", "value": 0.5}, {"date": "2011-01-28", "value": 0.2}, {"date": "2011-04-25", "value": 0.2}
  ],
  "ssi_t": [{"date": "2002-06-01", "value": 1.11}, {"date": "2010-08-03", "value": 0.0}],
  "ove_m": [
   {"date": "2002-10-12", "value": 0.21}, {"date": "2002-12-28", "value": 0.21}, {"date": "2003-05-22", "value": 0.21},
   {"date": "2003-10-04", "value": 0.21}, {"date": "2003-12-20", "value": 0.21}, {"date": "2004-03-18", "value": 0.21},
   {"date": "2004-05-27", "value": 0.21}, {"date": "2004-09-27", "value": 0.21}, {"date": "2004-12-24", "value": 0.21},
   {"date": "2005-03-23", "value": 0.21}, {"date": "2005-05-12", "value": 0.21}, {"date": "2005-07-27", "value": 0.21},
   {"date": "2005-10-23", "value": 0.21}, {"date": "2006-02-17", "value": 0.21}, {"date": "2006-04-09", "value": 0.21},
   {"date": "2006-06-28", "value": 0.21}, {"date": "2007-01-30", "value": 0.21}, {"date": "2007-04-05", "value": 0.21},
   {"date": "2007-07-01", "value": 0.21}, {"date": "2007-10-01", "value": 0.21}, {"date": "2007-12-10", "value": 0.21},
   {"date": "2008-02-10", "value": 0.21}, {"date": "2008-09-16", "value": 0.21}, {"date": "2008-11-14", "value": 0.21},
   {"date": "2009-03-15", "value": 0.21}, {"date": "2009-05-19", "value": 0.21}, {"date": "2009-07-27", "value": 0.21},
   {"date": "2010-01-15", "value": 0.21}, {"date": "2010-04-16", "value": 0.21}, {"date": "2010-08-04", "value": 0.21},
   {"date": "2011-02-28", "value": 0.21}, {"date": "2011-06-14", "value": 0.21}
  ],
  "ove_t": [{"date": "2002-06-01", "value": 0.2}, {"date": "2011-09-01", "value": 0.2}],
  "zi_m": [
   {"date": "2002-08-16", "value": 0.2}, {"date": "2002-08-29", "value": 1.23}, {"date": "2002-09-06", "value": 0.2},
   {"date": "2002-09-13", "value": 0.45}, {"date": "2002-09-26", "value": 0.2}, {"date": "2002-10-09", "value": 0.45},
   {"date": "2002-10-16", "value": 0.2}, {"date": "2002-10-26", "value": 1.47}, {"date": "2002-11-03", "value": 0.2},
   {"date": "2002-11-11", "value": 0.6}, {"date": "2002-11-21", "value": 0.2}, {"date": "2002-12-01", "value": 1.05},
   {"date": "2002-12-11", "value": 0.2}, {"date": "2003-01-08", "value": 0.2}, {"date": "2003-01-21", "value": 1.05},
   {"date": "2003-02-03", "value": 1.05}, {"date": "2003-02-13", "value": 1.42}, {"date": "2003-03-18", "value": 1.85},
   {"date": "2003-04-08", "value": 0.2}, {"date": "2003-05-01", "value": 0.2}, {"date": "2003-05-15", "value": 0.5},
   {"date": "2003-05-30", "value": 0.2}, {"date": "2003-06-20", "value": 1.23}, {"date": "2003-07-05", "value": 0.42},
   {"date": "2003-07-18", "value": 0.2}, {"date": "2003-08-17", "value": 0.2}, {"date": "2003-09-25", "value": 0.2},
   {"date": "2003-10-28", "value": 0.2}, {"date": "2003-11-22", "value": 0.58}, {"date": "2003-12-02", "value": 0.2},
   {"date": "2003-12-17", "value": 0.5}, {"date": "2004-01-02", "value": 0.2}, {"date": "2004-02-04", "value": 1.2},
   {"date": "2004-02-25", "value": 0.2}, {"date": "2004-03-22", "value": 0.2}, {"date": "2004-04-09", "value": 1.82},
   {"date": "2004-04-22", "value": 0.42}, {"date": "2004-05-05", "value": 0.2}, {"date": "2004-06-17", "value": 0.2},
   {"date": "2004-08-07", "value": 0.2}, {"date": "2004-09-02", "value": 0.2}, {"date": "2004-09-09", "value": 0.82},
   {"date": "2004-09-20", "value": 0.2}, {"date": "2004-11-04", "value": 0.2}, {"date": "2004-12-24", "value": 0.2},
   {"date": "2005-01-19", "value": 0.2}, {"date": "2005-01-26", "value": 1.6}, {"date": "2005-02-04", "value": 0.42},
   {"date": "2005-02-13", "value": 0.2}, {"date": "2005-03-09", "value": 0.2}, {"date": "2005-03-16", "value": 1.5},
   {"date": "2005-03-26", "value": 0.2}, {"date": "2005-04-16", "value": 0.2}, {"date": "2005-05-04", "value": 0.6},
   {"date": "2005-05-14", "value": 0.2}, {"date": "2005-07-01", "value": 0.2}, {"date": "2005-08-21", "value": 0.2},
   {"date": "2005-09-03", "value": 0.2}, {"date": "2005-09-10", "value": 0.92}, {"date": "2005-09-21", "value": 0.2},
   {"date": "2005-11-30", "value": 0.2}, {"date": "2006-02-15", "value": 0.2}, {"date": "2006-04-30", "value": 0.2},
   {"date": "2006-07-15", "value": 0.2}, {"date": "2006-09-30", "value": 0.2}, {"date": "2006-12-14", "value": 0.2},
   {"date": "2007-01-09", "value": 0.42}, {"date": "2007-01-22", "value": 0.2}, {"date": "2007-02-28", "value": 0.2},
   {"date": "2007-03-29", "value": 0.2}, {"date": "2007-04-19", "value": 1.02}, {"date": "2007-05-09", "value": 0.2},
   {"date": "2007-07-04", "value": 0.2}, {"date": "2007-09-19", "value": 0.2}, {"date": "2007-12-04", "value": 0.2},
   {"date": "2008-02-01", "value": 0.2}, {"date": "2008-02-14", "value": 0.82}, {"date": "2008-02-24", "value": 0.2},
   {"date": "2008-05-03", "value": 0.2}, {"date": "2008-07-18", "value": 0.2}, {"date": "2008-10-03", "value": 0.2},
   {"date": "2008-12-18", "value": 0.2}, {"date": "2009-03-02", "value": 0.2}, {"date": "2009-05-05", "value": 0.2},
   {"date": "2009-05-30", "value": 0.52}, {"date": "2009-07-02", "value": 0.2}, {"date": "2009-09-22", "value": 0.2},
   {"date": "2009-12-07", "value": 0.2}, {"date": "2010-02-09", "value": 0.2}, {"date": "2010-02-28", "value": 0.52},
   {"date": "2010-03-09", "value": 0.2}, {"date": "2010-05-01", "value": 0.2}, {"date": "2010-05-16", "value": 0.7},
   {"date": "2010-05-29", "value": 0.2}, {"date": "2010-06-11", "value": 0.52}, {"date": "2010-07-16", "value": 0.2},
   {"date": "2010-08-11", "value": 0.2}, {"date": "2010-09-08", "value": 0.6}, {"date": "2010-10-06", "value": 0.2},
   {"date": "2010-12-21", "value": 0.2}, {"date": "2011-03-06", "value": 0.2}, {"date": "2011-05-08", "value": 0.2},
   {"date": "2011-07-10", "value": 0.18}
  ],
  "zi_t": [
   {"date": "2002-06-01", "value": 0.43}, {"date": "2003-11-14", "value": 0.4}, {"date": "2004-10-26", "value": 0.37},
   {"date": "2005-10-23", "value": 0.34}, {"date": "2006-10-19", "value": 0.31}, {"date": "2007-10-26", "value": 0.28},
   {"date": "2008-10-22", "value": 0.25}, {"date": "2009-10-16", "value": 0.21}, {"date": "2010-10-12", "value": 0.17},
   {"date": "2011-09-01", "value": 0.17}
  ]
 },
 "config": {
  "font": "Liberation Sans",
  "view": {"stroke": "#000000", "strokeWidth": 2},
  "title": {"font": "Liberation Sans", "fontWeight": "normal", "color": "#000000"},
  "axis": {"labelFont": "Liberation Sans", "labelFontSize": 14, "labelColor": "#000000", "titleFont": "Liberation Sans", "titleFontSize": 14, "titleFontWeight": "normal", "titleColor": "#000000", "tickColor": "#000000", "tickSize": -4, "tickWidth": 1, "domain": false, "labelOverlap": false, "labelFlush": false, "gridColor": "#b4b4b4", "gridDash": [2, 2], "gridWidth": 1},
  "axisBottom": {"labelPadding": 17},
  "axisLeft": {"labelPadding": 12, "titlePadding": 12}
 }
}
